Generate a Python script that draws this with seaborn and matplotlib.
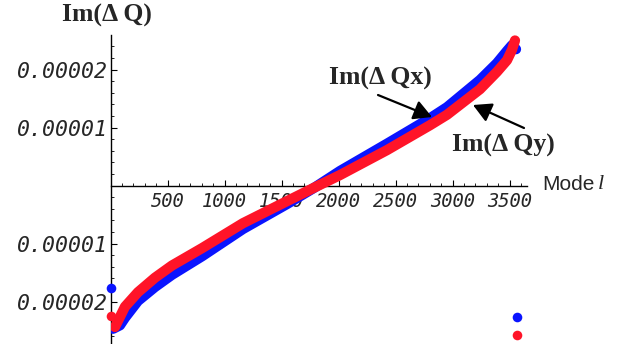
import matplotlib
matplotlib.use("Agg")
import matplotlib.pyplot as plt
import seaborn as sns
from matplotlib.ticker import MultipleLocator

# ---- data ----
mode_x = [22, 83, 127, 241, 390, 539, 803, 1162, 1548, 1794, 2013, 2425, 2803,
          2952, 3241, 3390, 3478, 3522, 3557]
im_dqx = [-2.47e-5, -2.41e-5, -2.28e-5, -1.99e-5, -1.75e-5, -1.54e-5, -1.22e-5,
          -0.75e-5, -0.32e-5, -0.03e-5, 0.25e-5, 0.72e-5, 1.16e-5, 1.35e-5,
          1.82e-5, 2.11e-5, 2.32e-5, 2.42e-5, 2.35e-5]

mode_y = [39, 127, 241, 390, 539, 803, 1162, 1548, 1794, 2013, 2425, 2803, 2952,
          3241, 3390, 3478, 3522, 3548]
im_dqy = [-2.44e-5, -2.09e-5, -1.84e-5, -1.59e-5, -1.38e-5, -1.08e-5, -0.65e-5,
          -0.27e-5, -0.03e-5, 0.18e-5, 0.61e-5, 1.04e-5, 1.22e-5, 1.66e-5,
          1.96e-5, 2.16e-5, 2.34e-5, 2.50e-5]

# isolated points (first and last modes)
outlier_l = [2, 3570]
outlier_x = [-1.77e-5, -2.27e-5]
outlier_y = [-2.25e-5, -2.58e-5]

xtick_vals = [500, 1000, 1500, 2000, 2500, 3000, 3500]
xtick_labels = ["500", "1000", "1500", "2000", "2500", "3000", "3500"]
ytick_vals = [-2e-5, -1e-5, 1e-5, 2e-5]
ytick_labels = ["0.00002", "0.00001", "0.00001", "0.00002"]

BLUE = "#0a14ff"
RED = "#ff1428"

sns.set_style("white")
W, H = 617, 344
fig = plt.figure(figsize=(W / 100, H / 100), dpi=100)

left_px, right_px, top_px = 110.5, 527, 35
ax = fig.add_axes([left_px / W, 0, (right_px - left_px) / W, 1 - top_px / H])

ax.set_xlim(0, (right_px - left_px) * 500 / 57)
ax.set_ylim(-(H - 185.5) / 58 * 1e-5, (185.5 - top_px) / 58 * 1e-5)

sns.lineplot(x=mode_x, y=im_dqx, ax=ax, color=BLUE, linewidth=7.4,
             sort=False, estimator=None, solid_capstyle="round",
             solid_joinstyle="round", zorder=3)
sns.lineplot(x=mode_y, y=im_dqy, ax=ax, color=RED, linewidth=7.4,
             sort=False, estimator=None, solid_capstyle="round",
             solid_joinstyle="round", zorder=4)
sns.scatterplot(x=outlier_l, y=outlier_x, ax=ax, color=BLUE, s=48,
                linewidth=0, zorder=3, clip_on=False)
sns.scatterplot(x=outlier_l, y=outlier_y, ax=ax, color=RED, s=48,
                linewidth=0, zorder=4, clip_on=False)

# Mathematica-like axes through the origin
for s in ["top", "right"]:
    ax.spines[s].set_visible(False)
ax.spines["left"].set_position(("data", 0))
ax.spines["bottom"].set_position(("data", 0))
for s in ["left", "bottom"]:
    ax.spines[s].set_linewidth(1.0)
    ax.spines[s].set_color("black")
    ax.spines[s].set_zorder(1)
ax.set_axisbelow(True)

ax.set_xticks(xtick_vals)
ax.set_xticklabels(xtick_labels)
ax.set_yticks(ytick_vals)
ax.set_yticklabels(ytick_labels)
ax.xaxis.set_minor_locator(MultipleLocator(100))
ax.yaxis.set_minor_locator(MultipleLocator(2e-6))
ax.tick_params(which="major", direction="in", length=4, width=0.8, color="black")
ax.tick_params(which="minor", direction="in", length=2.5, width=0.6, color="black")
ax.tick_params(axis="x", which="both", bottom=True, pad=5)
ax.tick_params(axis="y", which="both", left=True, pad=1.5)

for t in ax.get_yticklabels():
    t.set_fontfamily("DejaVu Sans Mono"); t.set_fontstyle("oblique"); t.set_fontsize(15.5)
for t in ax.get_xticklabels():
    t.set_fontfamily("DejaVu Sans Mono"); t.set_fontstyle("oblique"); t.set_fontsize(13.5)
ax.set_xlabel(""); ax.set_ylabel("")

def fx(px):
    return px / W

def fy(py):
    return 1 - py / H

serif_b = dict(family="Liberation Serif", weight="bold", size=18.5)
fig.text(fx(107), fy(15), "Im(\u0394 Q)", ha="center", va="center", **serif_b)
fig.text(fx(542), fy(185), "Mode", ha="left", va="center",
         family="Liberation Sans", size=15)
fig.text(fx(598), fy(185), "l", ha="left", va="center",
         family="Liberation Serif", style="italic", size=16)

arrow = dict(arrowstyle="-|>,head_length=0.55,head_width=0.3", color="black",
             lw=1.6, mutation_scale=20, shrinkA=0, shrinkB=0)
ax.annotate("Im(\u0394 Qx)", xy=(fx(380), fy(78)), xycoords="figure fraction",
            ha="center", va="center", fontsize=18.5, family="Liberation Serif",
            weight="bold", annotation_clip=False)
ax.annotate("", xy=(fx(432), fy(117)), xycoords="figure fraction",
            xytext=(fx(378), fy(95)), textcoords="figure fraction",
            arrowprops=arrow, annotation_clip=False)
ax.annotate("Im(\u0394 Qy)", xy=(fx(503), fy(145)), xycoords="figure fraction",
            ha="center", va="center", fontsize=18.5, family="Liberation Serif",
            weight="bold", annotation_clip=False)
ax.annotate("", xy=(fx(473), fy(105)), xycoords="figure fraction",
            xytext=(fx(524), fy(128)), textcoords="figure fraction",
            arrowprops=arrow, annotation_clip=False)

fig.savefig("out.png", dpi=100)
